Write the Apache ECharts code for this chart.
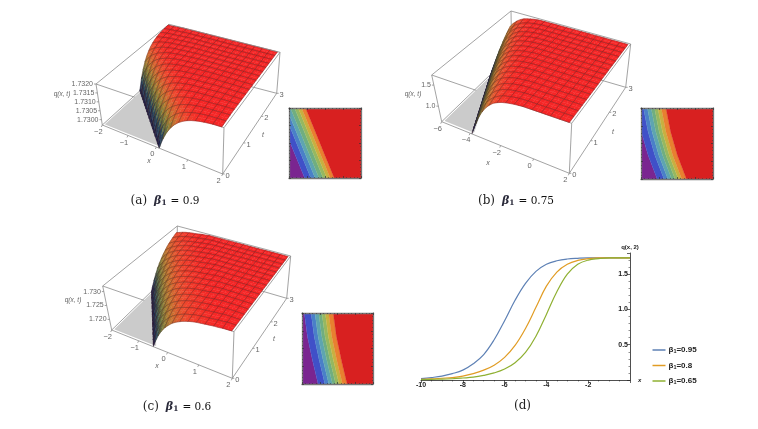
<!DOCTYPE html>
<html><head><meta charset="utf-8">
<style>html,body{margin:0;padding:0;background:#fff}#c{width:758px;height:429px}</style>
<script src="https://cdn.jsdelivr.net/npm/echarts@6/dist/echarts.min.js"></script>
</head><body><div id="c"></div>
<script>
// ---------- values ----------
// q along the travelling profile, from where the surface leaves the floor
const profileA=[1.72970,1.73026,1.73069,1.73102,1.73127,1.73146,1.73160,1.73171,1.73179,1.73185,1.73190,1.73193,1.73196,1.73198,1.73199,1.73200,1.73201,1.73202,1.73203,1.73204,1.73205];
const profileB=[.63,.67,.71,.75,.79,.83,.87,.91,.95,.99,1.03,1.06,1.10,1.13,1.17,1.20,1.23,1.26,1.29,1.32,1.34,1.37,1.39,1.41,1.43,1.45,1.47,1.49,1.51,1.52,1.54,1.55,1.57,1.58,1.59,1.60,1.61,1.62,1.63,1.64,1.65,1.655,1.66,1.665,1.67,1.675,1.68,1.685,1.69,1.695,1.70,1.70,1.705,1.71,1.71,1.715,1.72,1.72,1.72,1.725,1.725,1.73,1.73,1.73,1.735,1.735,1.735,1.74];
const profileC=[1.7162,1.7173,1.7183,1.7192,1.7201,1.7209,1.7217,1.7224,1.7230,1.7236,1.7242,1.7247,1.7252,1.7257,1.7261,1.7265,1.7269,1.7273,1.7276,1.7279,1.7282,1.7284,1.7287,1.7289,1.7291,1.7293,1.7295,1.7297,1.7298,1.7300,1.7301,1.7302,1.7304,1.7305,1.7306,1.7307,1.7308,1.7308,1.7309,1.7310,1.7311,1.7311,1.7312,1.7312,1.7313,1.7313,1.7314,1.7315,1.7315,1.7316,1.7316,1.7317,1.7317,1.7318,1.7318,1.7319,1.7319,1.7320];
const xTicksA=[-2,-1,0,1,2], zTicksA=[1.7300,1.7305,1.7310,1.7315,1.7320];
const xTicksB=[-6,-4,-2,0,2], zTicksB=[1.0,1.5];
const xTicksC=[-2,-1,0,1,2], zTicksC=[1.720,1.725,1.730];
const tTicks=[0,1,2,3];
// contour band edges: x of each edge at t = 0,1,2,3
const contourT=[0,1,2,3];
const edgesA=[[-1.13,-1.66,-2.19,-2.72],[-.79,-1.32,-1.85,-2.38],[-.55,-1.08,-1.61,-2.14],[-.33,-.86,-1.39,-1.92],[-.10,-.63,-1.16,-1.69],[.10,-.43,-.96,-1.49],[.29,-.24,-.77,-1.30],[.51,-.02,-.55,-1.08]];
const edgesB=[[-4.20,-5.21,-5.96,-6.48],[-3.45,-4.46,-5.21,-5.73],[-3.01,-4.02,-4.77,-5.29],[-2.59,-3.60,-4.35,-4.87],[-2.22,-3.23,-3.98,-4.50],[-1.85,-2.86,-3.61,-4.13],[-1.47,-2.48,-3.23,-3.75],[-.95,-1.96,-2.71,-3.23]];
const edgesC=[[-1.09,-1.41,-1.69,-1.87],[-.71,-1.03,-1.31,-1.49],[-.49,-.81,-1.09,-1.27],[-.28,-.60,-.88,-1.06],[-.10,-.42,-.70,-.88],[.09,-.23,-.51,-.69],[.28,-.04,-.32,-.50],[.54,.22,-.06,-.24]];
// panel (d)
const xVals=[-10,-9.5,-9,-8.5,-8,-7.5,-7,-6.5,-6,-5.5,-5,-4.5,-4,-3.5,-3,-2.5,-2,-1.5,-1,-.5,0];
const q095=[.02,.035,.055,.09,.14,.23,.36,.57,.84,1.13,1.37,1.54,1.64,1.69,1.715,1.725,1.73,1.73,1.73,1.73,1.73];
const q08=[.01,.015,.025,.035,.055,.09,.14,.21,.32,.49,.73,1.03,1.33,1.53,1.64,1.695,1.72,1.73,1.73,1.73,1.73];
const q065=[.005,.01,.012,.018,.028,.04,.065,.10,.155,.245,.39,.62,.93,1.25,1.50,1.64,1.70,1.72,1.73,1.73,1.73];

// ---------- layout and styles ----------
const CELLS=16, SUB=2, INSET=.985;
const surfaceStops=[[0,[30,20,64]],[.12,[31,42,85]],[.25,[43,74,90]],[.4,[95,110,63]],[.55,[146,127,53]],[.7,[200,115,47]],[.85,[236,76,46]],[.97,[246,40,38]],[1,[246,38,38]]];
const bandColors=['#7a2590','#4050c8','#4a80c8','#5ea5b0','#70ae80','#96b860','#c8b040','#e88030','#d82020'];
const panels=[
 {profile:profileA,xr:[-2,2],zr:[1.7297,1.7320],xT:xTicksA,zT:zTicksA,colStep:1,rowStep:1,off:17,floorX:.1,floorT:1.59,zDigits:4,
  top:{bl:[169,24.3],br:[280,52.3],fl:[96,84],fr:[224,127.7]},bot:{bl:[168.3,65],br:[276.7,93.3],fl:[102.3,125],fr:[222.7,174]},
  qL:[62,94],xL:[149,161],tL:[263,135]},
 {profile:profileB,xr:[-6,2],zr:[.63,1.74],xT:xTicksB,zT:zTicksB,colStep:5,rowStep:2,off:43,floorX:-3.85,floorT:2.0,zDigits:1,
  top:{bl:[511,11],br:[630.7,44],fl:[431.7,75],fr:[571.7,123.3]},bot:{bl:[511.7,54],br:[625.7,87.3],fl:[441.7,121.7],fr:[569.3,173.3]},
  qL:[413,94],xL:[488,163],tL:[613,132]},
 {profile:profileC,xr:[-2,2],zr:[1.7162,1.7320],xT:xTicksC,zT:zTicksC,colStep:3,rowStep:2,off:37,floorX:-.45,floorT:1.73,zDigits:3,
  top:{bl:[177.3,226],br:[290.7,256],fl:[102.7,286],fr:[234,331.7]},bot:{bl:[177.3,266.3],br:[286.7,298.3],fl:[111.7,330],fr:[232.3,378.3]},
  qL:[73,300],xL:[157,366],tL:[274,339]}
];
const contours=[
 {edges:edgesA,xr:[-2,2],rect:[289,108,361,178]},
 {edges:edgesB,xr:[-6,2],rect:[641,108,713,179]},
 {edges:edgesC,xr:[-2,2],rect:[302,313,373,384]}
];
const FRAME='#8c8c8c', TICKTXT='#666', SANS='"Liberation Sans",Arial,sans-serif', SERIF='"DejaVu Serif",serif';

function homography(q){ // unit square (u,v): (0,0)=fl (1,0)=fr (1,1)=br (0,1)=bl
 const [x0,y0]=q.fl,[x1,y1]=q.fr,[x2,y2]=q.br,[x3,y3]=q.bl;
 const dx1=x1-x2,dx2=x3-x2,sx=x0-x1+x2-x3,dy1=y1-y2,dy2=y3-y2,sy=y0-y1+y2-y3;
 const d=dx1*dy2-dx2*dy1, g=(sx*dy2-dx2*sy)/d, h=(dx1*sy-sx*dy1)/d;
 const a=x1-x0+g*x1,b=x3-x0+h*x3,e=y1-y0+g*y1,f=y3-y0+h*y3;
 return (u,v)=>{const w=g*u+h*v+1;return [(a*u+b*v+x0)/w,(e*u+f*v+y0)/w];};
}
function surfaceColor(f){
 f=Math.max(0,Math.min(1,f));
 for(let i=1;i<surfaceStops.length;i++){
  if(f<=surfaceStops[i][0]){
   const [a,ca]=surfaceStops[i-1],[b,cb]=surfaceStops[i],r=(f-a)/(b-a);
   return 'rgb('+ca.map((c,k)=>Math.round(c+(cb[k]-c)*r)).join(',')+')';
  }
 }
 return 'rgb(246,38,38)';
}
function clipFloor(vs){ // keep the part of a grid polygon that is above the floor line k=0
 const out=[];
 for(let n=0;n<vs.length;n++){
  const a=vs[n],b=vs[(n+1)%vs.length];
  if(a.k>=0)out.push(a);
  if((a.k<0)!==(b.k<0)){
   const r=a.k/(a.k-b.k);
   out.push({j:a.j+(b.j-a.j)*r,i:a.i+(b.i-a.i)*r,k:0});
  }
 }
 return out;
}
function buildPanel(p){
 const hb=homography(p.bot),ht=homography(p.top);
 const nx=v=>(v-p.xr[0])/(p.xr[1]-p.xr[0]);
 const proj=(u,v,w)=>{const a=hb(u,v),b=ht(u,v);return [a[0]+(b[0]-a[0])*w,a[1]+(b[1]-a[1])*w];};
 const zn=q=>(q-p.zr[0])/(p.zr[1]-p.zr[0]);
 const line=(a,b,w)=>({type:'line',silent:true,shape:{x1:a[0],y1:a[1],x2:b[0],y2:b[1]},style:{stroke:FRAME,lineWidth:w||.8}});
 const text=(s,x,y,font,align,fill)=>({type:'text',silent:true,style:{text:s,x,y,font,textAlign:align||'center',textVerticalAlign:'middle',fill:fill||TICKTXT}});
 const T=p.top,B=p.bot,c=[];
 // back frame
 [[T.fl,T.bl],[B.fl,B.bl],[B.bl,B.br],[T.bl,B.bl],[T.br,B.br],[T.fl,B.fl],[T.fl,T.fr]].forEach(e=>c.push(line(e[0],e[1])));
 // floor
 c.push({type:'polygon',silent:true,shape:{points:[proj(.015,.02,0),proj(nx(p.floorX),.02,0),proj(.015,p.floorT/3,0)]},style:{fill:'#cbcbcb',stroke:'#bdbdbd',lineWidth:.5}});
 // surface, far to near
 const N=CELLS*SUB, P=p.profile;
 const V=(j,i)=>({j,i,k:p.colStep*j+p.rowStep*i-p.off});
 const pf=v=>{const n=Math.round(v.k);const q=n>=P.length?P[P.length-1]:P[Math.max(0,n)];return zn(q);};
 const pt=v=>proj(v.j/N*INSET,v.i/N*INSET,pf(v));
 for(let ci=CELLS-1;ci>=0;ci--)for(let cj=0;cj<CELLS;cj++){
  for(let si=SUB-1;si>=0;si--)for(let sj=0;sj<SUB;sj++){
   const i=ci*SUB+si,j=cj*SUB+sj;
   const vs=clipFloor([V(j,i),V(j+1,i),V(j+1,i+1),V(j,i+1)]);
   if(vs.length<3)continue;
   const col=surfaceColor(vs.reduce((s,v)=>s+pf(v),0)/vs.length);
   c.push({type:'polygon',silent:true,shape:{points:vs.map(pt)},style:{fill:col,stroke:col,lineWidth:.4}});
  }
  const I=ci*SUB,J=cj*SUB,outline=[];
  for(let s=0;s<SUB;s++)outline.push(V(J+s,I));
  for(let s=0;s<SUB;s++)outline.push(V(J+SUB,I+s));
  for(let s=0;s<SUB;s++)outline.push(V(J+SUB-s,I+SUB));
  for(let s=0;s<SUB;s++)outline.push(V(J,I+SUB-s));
  const cl=clipFloor(outline);
  if(cl.length>=3)c.push({type:'polygon',silent:true,shape:{points:cl.map(pt)},style:{fill:'none',stroke:'rgba(60,25,25,.5)',lineWidth:.6}});
 }
 // near frame
 [[T.bl,T.br],[T.br,T.fr],[T.fr,B.fr],[B.fl,B.fr],[B.fr,B.br]].forEach(e=>c.push(line(e[0],e[1])));
 // ticks and labels
 p.xT.forEach(v=>{const a=proj(nx(v),0,0);c.push(line(a,[a[0]-1,a[1]+2]));
  c.push(text(String(v).replace('-','\u2212'),a[0]-4,a[1]+7,'7.5px '+SANS));});
 tTicks.forEach(v=>{const a=hb(1,v/3);c.push(line(a,[a[0]+2,a[1]]));
  c.push(text(String(v),a[0]+5,a[1]+2,'7.5px '+SANS));});
 p.zT.forEach(v=>{const a=proj(0,0,zn(v));c.push(line(a,[a[0]-2,a[1]]));
  c.push(text(v.toFixed(p.zDigits),a[0]-3,a[1],'7px '+SANS,'right'));});
 c.push(text('q(x, t)',p.qL[0],p.qL[1],'italic 6.5px '+SANS));
 c.push(text('x',p.xL[0],p.xL[1],'italic 7px '+SANS));
 c.push(text('t',p.tL[0],p.tL[1],'italic 7px '+SANS));
 return {type:'group',children:c};
}

// ---------- option ----------
const W=758,H=429;
const grid=[],xAxis=[],yAxis=[],series=[];
const frameAxis=(extra)=>Object.assign({z:6,axisLabel:{show:false},splitLine:{show:false},axisLine:{show:true,onZero:false,lineStyle:{color:'#777',width:1.3}},axisTick:{show:true,inside:true,length:2,lineStyle:{color:'#333',width:.7}},minorTick:{show:true,splitNumber:5,length:1,lineStyle:{color:'#333',width:.5}}},extra);
contours.forEach((ct,g)=>{
 const [x0,y0,x1,y1]=ct.rect;
 grid.push({left:x0,top:y0,width:x1-x0,height:y1-y0,containLabel:false});
 const xi=(ct.xr[1]-ct.xr[0])/4;
 ['bottom','top'].forEach(pos=>xAxis.push(frameAxis({type:'value',gridIndex:g,position:pos,min:ct.xr[0],max:ct.xr[1],interval:xi})));
 ['left','right'].forEach(pos=>yAxis.push(frameAxis({type:'value',gridIndex:g,position:pos,min:0,max:4,interval:1})));
 series.push({type:'custom',xAxisIndex:g*2,yAxisIndex:g*2,clip:true,silent:true,z:2,data:bandColors.map((_,k)=>[k]),
  encode:{x:-1,y:-1},
  renderItem(params,api){
   const k=params.dataIndex,E=ct.edges;
   const L=k===0?contourT.map(()=>ct.xr[0]-3):E[k-1], R=k===E.length?contourT.map(()=>ct.xr[1]):E[k];
   const s=4/3; // four tick intervals span t = 0..3 on the frame
   const pts=[];
   contourT.forEach((t,i)=>pts.push(api.coord([L[i],t*s])));
   for(let i=contourT.length-1;i>=0;i--)pts.push(api.coord([R[i],contourT[i]*s]));
   return {type:'polygon',shape:{points:pts},style:{fill:bandColors[k],stroke:bandColors[k],lineWidth:.3}};
  }});
});
// panel (d)
const gd=contours.length;
grid.push({left:421,top:253,width:209,height:127});
const dText={color:'#222',fontSize:7,fontWeight:'bold',fontFamily:SANS};
xAxis.push({type:'value',gridIndex:gd,min:-10,max:0,interval:2,name:'x',nameLocation:'end',nameGap:8,nameTextStyle:{color:'#222',fontSize:6,fontWeight:'bold',fontStyle:'italic',fontFamily:SANS},
 axisLine:{show:true,onZero:false,lineStyle:{color:'#222',width:.8}},axisTick:{show:true,length:3,lineStyle:{color:'#222',width:.7}},minorTick:{show:true,splitNumber:4,length:1.5,lineStyle:{color:'#222',width:.5}},splitLine:{show:false},
 axisLabel:Object.assign({margin:2,showMaxLabel:false,formatter:v=>v===0?'':String(v)},dText)});
yAxis.push({type:'value',gridIndex:gd,position:'right',min:0,max:1.8,interval:.5,name:'q(x, 2)',nameLocation:'end',nameGap:3,nameTextStyle:{color:'#222',fontSize:6,fontWeight:'bold',fontFamily:SANS,align:'center'},
 axisLine:{show:true,lineStyle:{color:'#222',width:.8}},axisTick:{show:true,length:3,inside:true,lineStyle:{color:'#222',width:.7}},minorTick:{show:true,splitNumber:5,length:1.5,lineStyle:{color:'#222',width:.5}},splitLine:{show:false},
 axisLabel:Object.assign({inside:true,margin:2,showMaxLabel:false,formatter:v=>(v===0||v>1.6)?'':v.toFixed(1)},dText)});
const dIdx=contours.length*2;
const dSeries=[['β1=0.95',q095,'#5e81b5'],['β1=0.8',q08,'#e19c24'],['β1=0.65',q065,'#8fb032']];
dSeries.forEach(s=>series.push({type:'line',name:s[0],xAxisIndex:dIdx,yAxisIndex:dIdx,smooth:.4,showSymbol:false,silent:true,data:xVals.map((x,i)=>[x,s[1][i]]),lineStyle:{color:s[2],width:1.2},itemStyle:{color:s[2]},z:3}));
// surfaces
panels.forEach(p=>{
 const built=buildPanel(p);
 series.push({type:'custom',coordinateSystem:'none',silent:true,z:1,data:[[0]],renderItem:()=>built});
});
const capRich={c:{fontFamily:SERIF,fontSize:12,fontWeight:'normal',color:'#222',padding:[0,7,0,0]},
 b:{fontFamily:SERIF,fontSize:11,fontWeight:'bold',fontStyle:'italic',color:'#2a2a3a'},
 s:{fontFamily:SERIF,fontSize:7.5,fontWeight:'bold',color:'#2a2a3a',padding:[5,0,0,0]},
 v:{fontFamily:SERIF,fontSize:10.5,fontWeight:'normal',color:'#111',padding:[0,0,0,4]}};
const caption=(label,val,cx,cy)=>({text:'{c|('+label+')}'+(val?'{b|β}{s|1}{v|= '+val+'}':''),left:cx,top:cy,textAlign:'center',textVerticalAlign:'middle',padding:0,textStyle:{fontWeight:'normal',rich:capRich}});
const option={animation:false,backgroundColor:'#fff',
 title:[caption('a','0.9',165,201),caption('b','0.75',516,201),caption('c','0.6',177,407),caption('d','',526,406)],
 grid,xAxis,yAxis,series,
 legend:{show:true,orient:'vertical',left:652.5,top:346,padding:0,itemWidth:13,itemHeight:1.5,itemGap:7,icon:'rect',data:dSeries.map(s=>s[0]),
  formatter:n=>'{b|β}{s|1}{b|'+n.slice(2)+'}',
  textStyle:{padding:[0,0,0,-2],rich:{b:{fontFamily:SANS,fontWeight:'bold',fontSize:8,color:'#222'},s:{fontFamily:SANS,fontWeight:'bold',fontSize:5.5,color:'#222',padding:[3,0,0,0]}}}}
};
const chart=echarts.init(document.getElementById('c'),null,{renderer:'canvas',width:W,height:H});
chart.setOption(option);
</script></body></html>
